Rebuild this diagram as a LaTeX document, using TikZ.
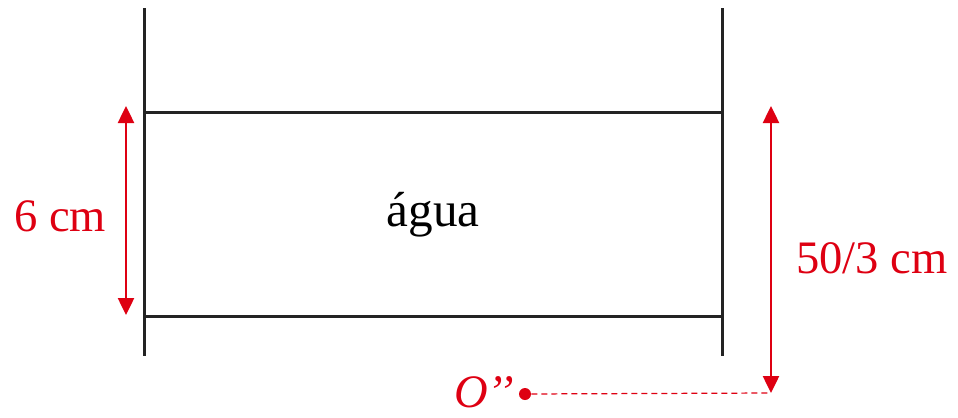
\documentclass[tikz,border=0pt]{standalone}
\usepackage{fontspec}
\setmainfont{Liberation Serif}
\usetikzlibrary{arrows.meta}
\definecolor{dimred}{RGB}{222,0,18}
\definecolor{walldark}{RGB}{35,35,35}
\tikzset{
  wall/.style={line width=0.06cm, color=walldark},
  dimarrow/.style={{Triangle[width=0.32cm,length=0.34cm]}-{Triangle[width=0.32cm,length=0.34cm]},
    line width=0.05cm, color=dimred},
  dimlabel/.style={font=\fontsize{26.5}{30}\selectfont, text=dimred, inner sep=0pt},
  guide/.style={dimred, line width=0.7pt, dash pattern=on 0.12cm off 0.08cm}
}
\begin{document}
\begin{tikzpicture}[x=0.02cm, y=-0.02cm]
    \useasboundingbox (0,0) rectangle (958,417);
    % Tube walls
    \coordinate (ltop) at (144,8);
    \coordinate (lbot) at (144,356);
    \coordinate (rtop) at (722,8);
    \coordinate (rbot) at (722,356);
    \draw[wall] (ltop) -- (lbot);
    \draw[wall] (rtop) -- (rbot);
    % Water surfaces
    \coordinate (sl1) at (144,112);
    \coordinate (sr1) at (722,112);
    \coordinate (sl2) at (144,316);
    \coordinate (sr2) at (722,316);
    \draw[wall] (sl1) -- (sr1);
    \draw[wall] (sl2) -- (sr2);
    \node[font=\fontsize{28}{32}\selectfont, inner sep=0pt] (agua) at (433,215) {água};
    % Left dimension
    \coordinate (la) at (126,106);
    \coordinate (lb) at (126,315);
    \draw[dimarrow] (la) -- (lb);
    \node[dimlabel] (hleft) at (60,216) {6 cm};
    % Right dimension
    \coordinate (ra) at (771,106);
    \coordinate (rb) at (771,393);
    \draw[dimarrow] (ra) -- (rb);
    \node[dimlabel] (hright) at (872,258) {50/3 cm};
    % Point O''
    \node[circle, fill=dimred, inner sep=0pt, minimum size=0.24cm] (odot) at (525,394) {};
    \node[dimlabel, anchor=east] (oname) at (514,392) {\textit{O’’}};
    \draw[guide] (odot) -- (rb);
  \end{tikzpicture}
\end{document}
